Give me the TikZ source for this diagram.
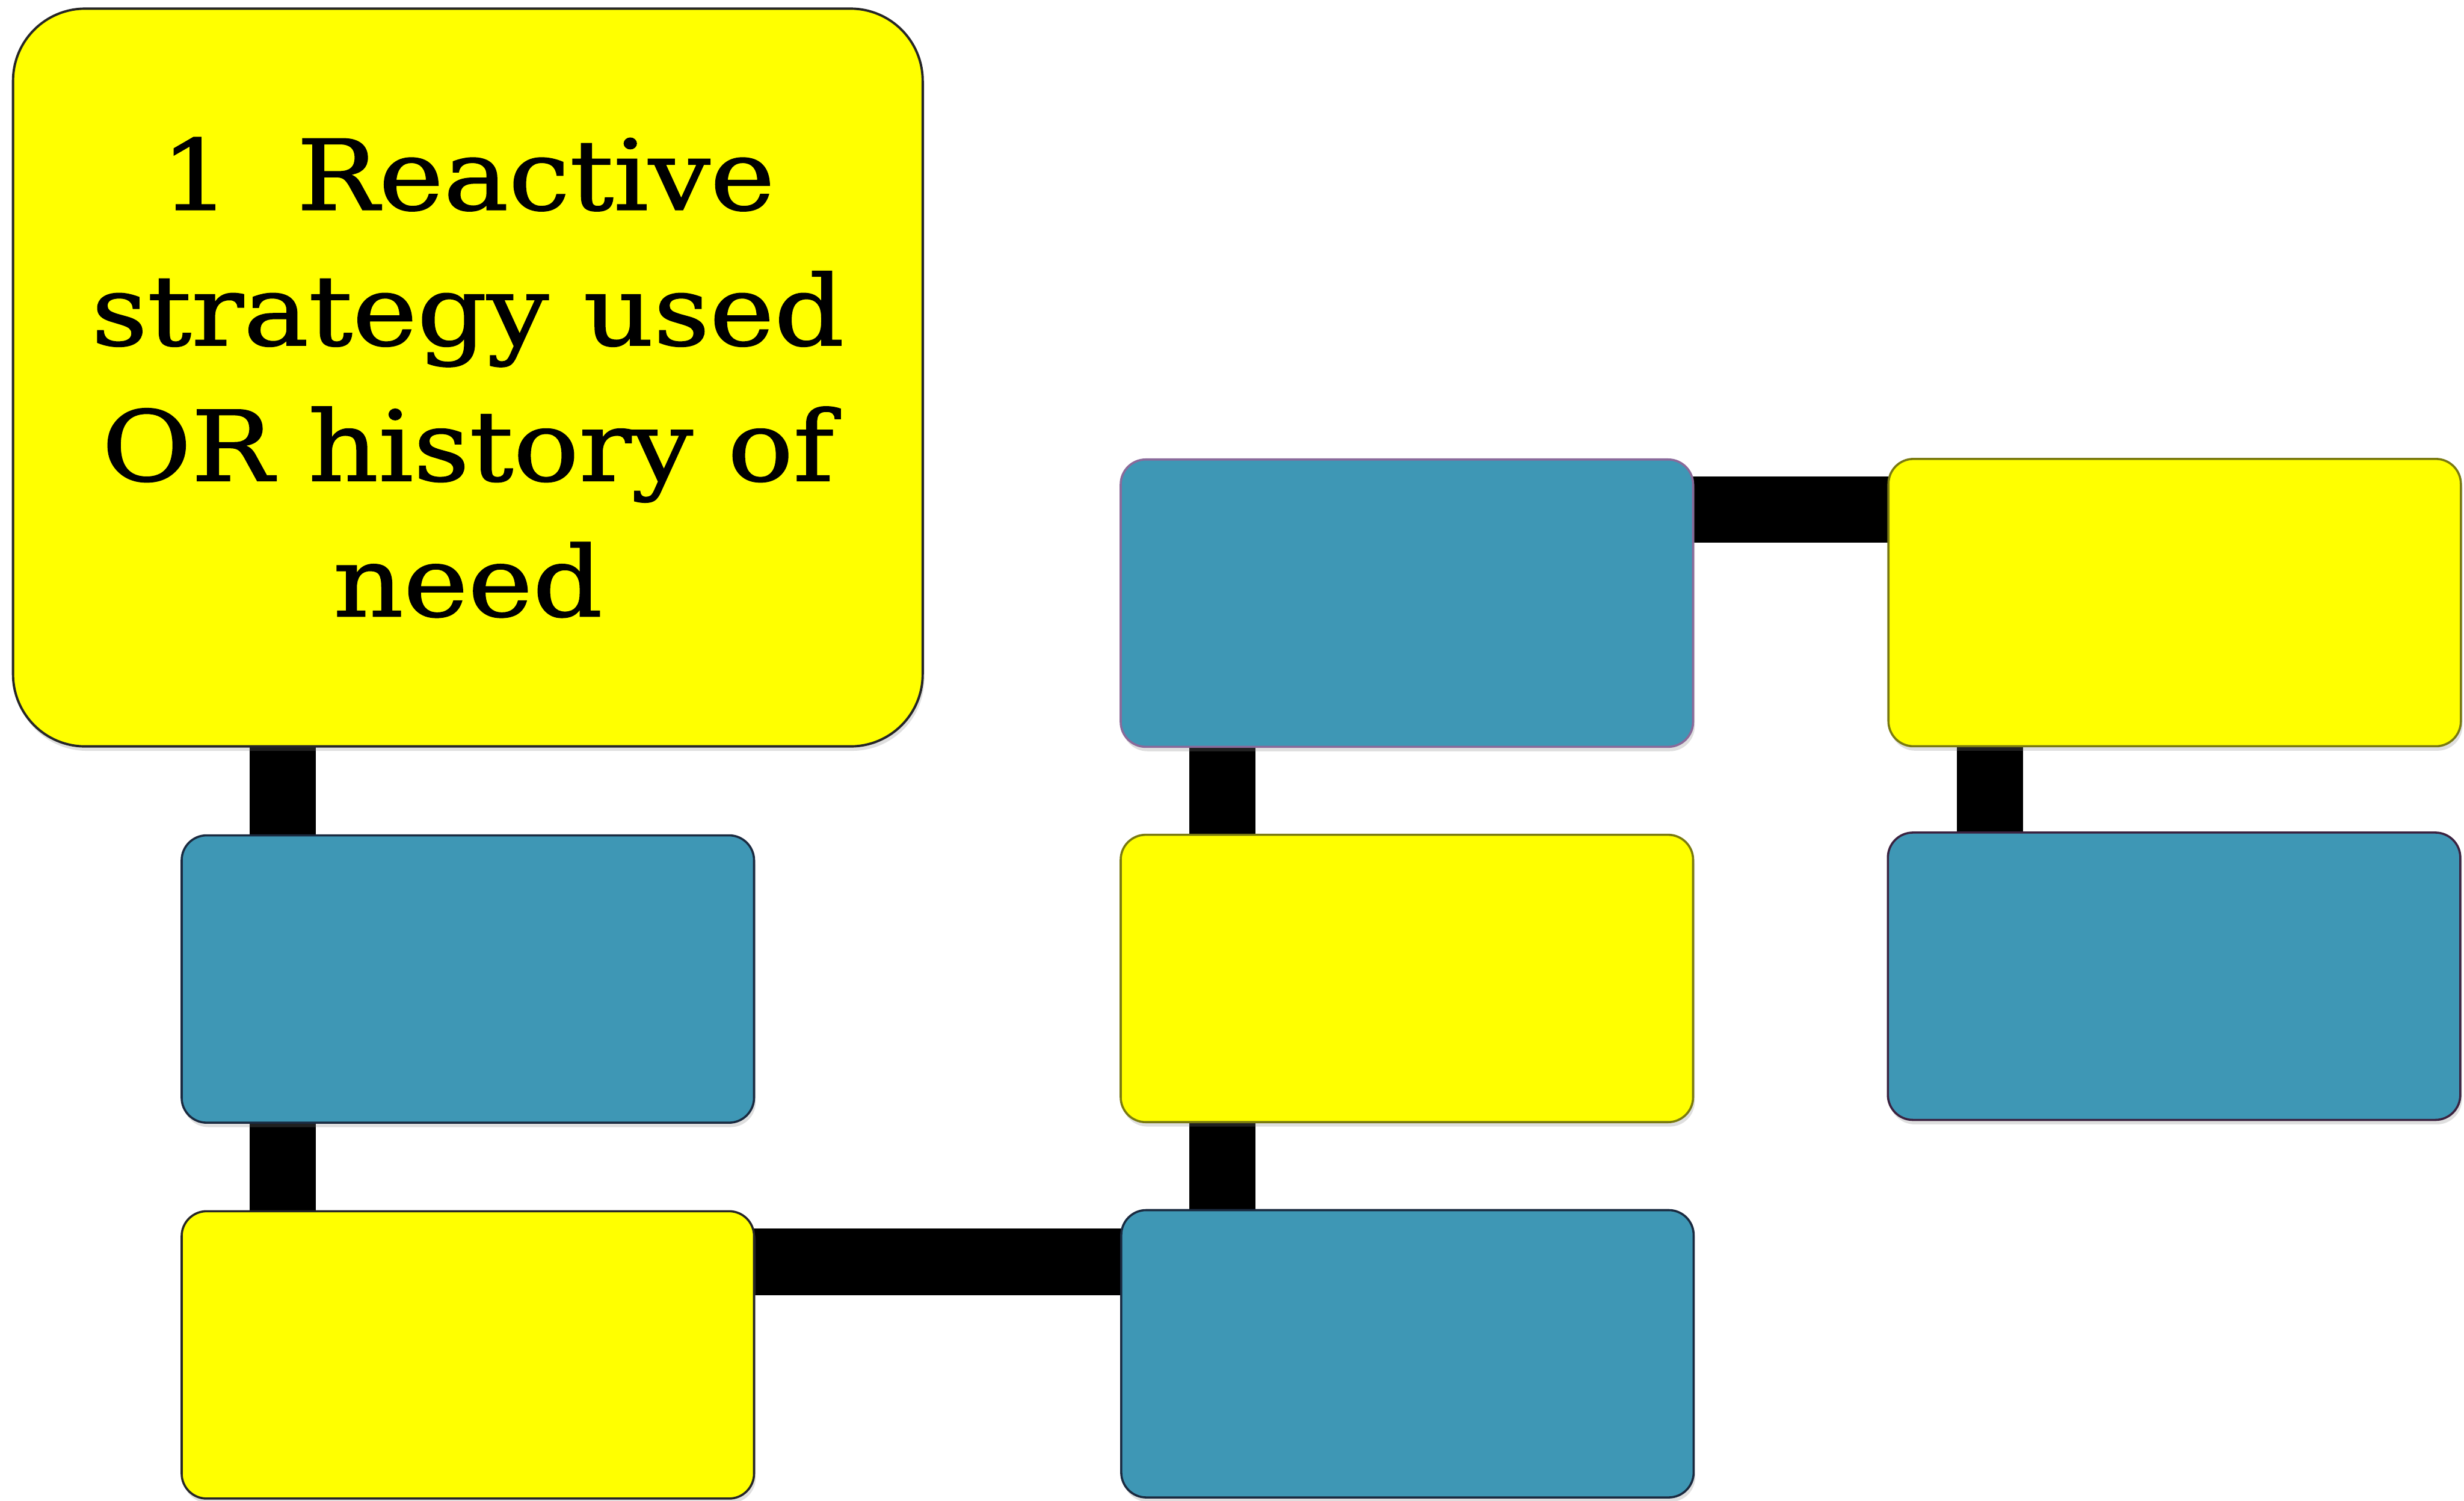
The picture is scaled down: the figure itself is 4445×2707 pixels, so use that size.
\documentclass[tikz,border=0pt]{standalone}
\usepackage{fontspec}
\setmainfont{DejaVu Serif}[FakeStretch=1.12, FakeBold=1.2]
\usetikzlibrary{backgrounds,shadows}
\definecolor{boxyellow}{HTML}{FFFF00}
\definecolor{boxblue}{HTML}{3E97B5}
\definecolor{olive}{HTML}{7A7A10}
\definecolor{darkline}{HTML}{1A2A40}
\definecolor{purpleline}{HTML}{8A6A9A}
\pgfdeclarelayer{paper}
\pgfsetlayers{paper,background,main}
\tikzset{
  boxbase/.style={rectangle, rounded corners=0.45cm, line width=1.1pt,
    minimum width=10.32cm, minimum height=5.18cm, inner sep=0pt,
    drop shadow={shadow xshift=0.03cm, shadow yshift=-0.08cm, opacity=0.25}},
  ybox/.style={boxbase, fill=boxyellow, draw=olive},
  bbox/.style={boxbase, fill=boxblue, draw=darkline},
  bigbox/.style={rectangle, rounded corners=1.3cm, line width=1.2pt,
    fill=boxyellow, draw=black!85, minimum width=16.4cm, minimum height=13.3cm,
    inner sep=0pt, align=center, font=\fontsize{50pt}{69.5pt}\selectfont,
    drop shadow={shadow xshift=0.03cm, shadow yshift=-0.08cm, opacity=0.25}},
  conn/.style={line width=1.2cm, draw=black}
}
\begin{document}
\begin{tikzpicture}[x=0.01cm, y=-0.01cm]
\begin{pgfonlayer}{paper}
\fill[white] (0,0) rectangle (4445,2707);
\end{pgfonlayer}
\useasboundingbox (0,0) rectangle (4445,2707);
\node[bigbox] (big) at (844,681) {1\hspace{1.2cm}Reactive\\strategy used\\OR history of\\need};
\node[bbox] (b1) at (844,1766) {};
\node[ybox, draw=black!85] (y2) at (844,2444) {};
\node[bbox] (b3) at (2539,2442) {};
\node[ybox] (y4) at (2538,1765) {};
\node[bbox, draw=purpleline] (b5) at (2538,1088) {};
\node[ybox] (y6) at (3923,1087) {};
\node[bbox, draw=darkline!80!purple] (b7) at (3922,1761) {};
\begin{pgfonlayer}{background}
\draw[conn] (big.center -| 510,0) -- (b1.center -| 510,0);
\draw[conn] (b1.center -| 510,0) -- (y2.center -| 510,0);
\draw[conn] (y2.center |- 0,2276) -- (b3.center |- 0,2276);
\draw[conn] (b3.center -| 2205,0) -- (y4.center -| 2205,0);
\draw[conn] (y4.center -| 2205,0) -- (b5.center -| 2205,0);
\draw[conn] (b5.center |- 0,919) -- (y6.center |- 0,919);
\draw[conn] (y6.center -| 3590,0) -- (b7.center -| 3590,0);
\end{pgfonlayer}
\end{tikzpicture}
\end{document}
